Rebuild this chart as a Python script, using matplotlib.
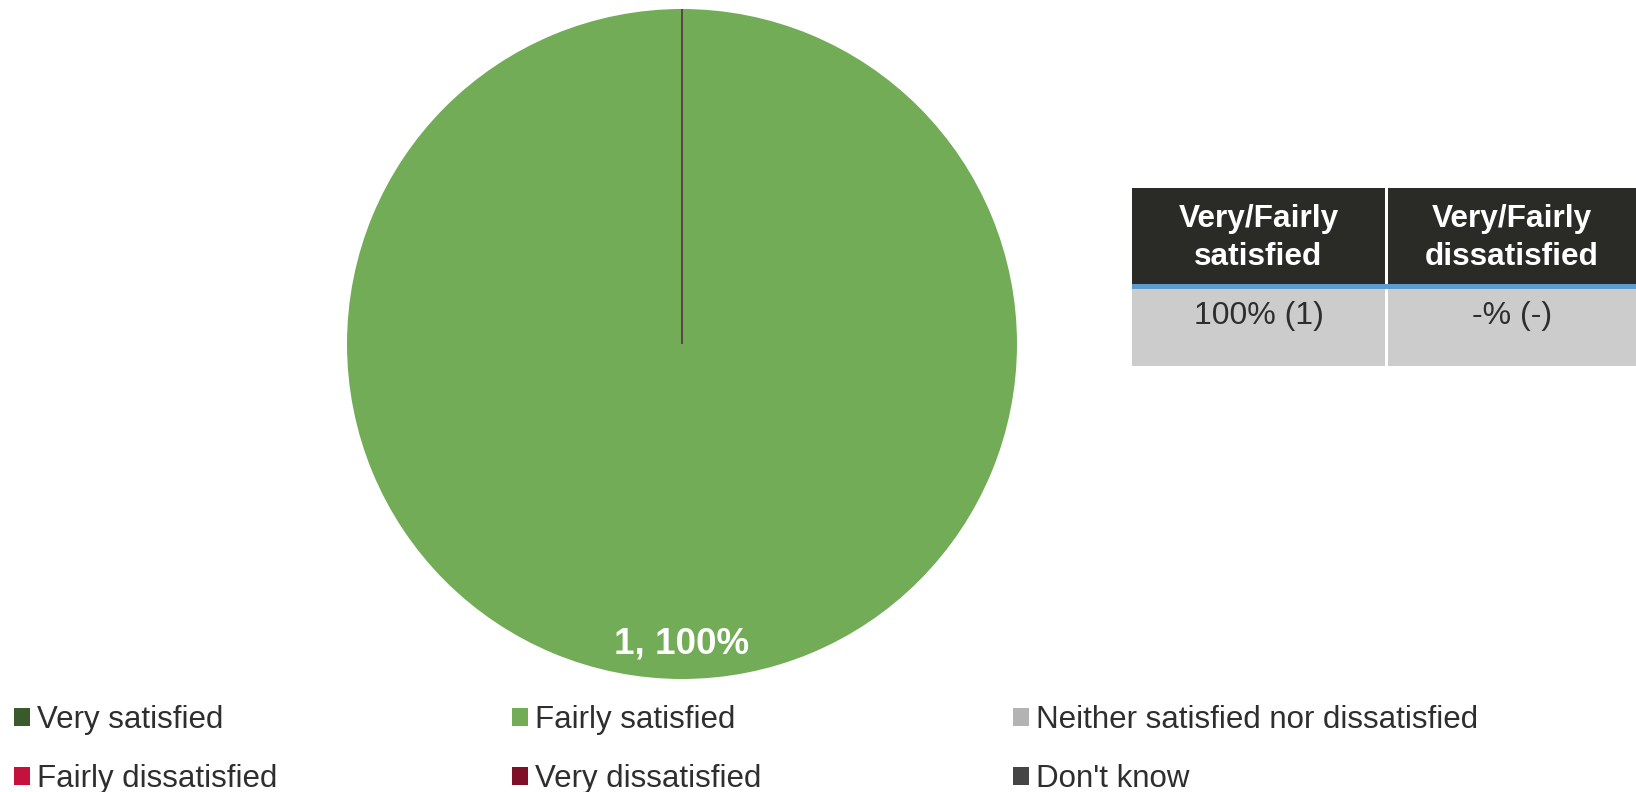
import matplotlib.pyplot as plt
from matplotlib.patches import Rectangle, Patch
from matplotlib import font_manager

# survey response counts (only one response in this chart)
categories = ["Very satisfied", "Fairly satisfied", "Neither satisfied nor dissatisfied",
              "Fairly dissatisfied", "Very dissatisfied", "Don't know"]
counts = [0, 1, 0, 0, 0, 0]
colors = ["#3b5a2b", "#72ac57", "#b3b3b3", "#c4123c", "#7e1128", "#454545"]

# summary table next to the pie
table_headers = ["Very/Fairly\nsatisfied", "Very/Fairly\ndissatisfied"]
table_values = ["100% (1)", "-% (-)"]

W, H = 1636, 792
installed = {f.name for f in font_manager.fontManager.ttflist}
BASE = "Liberation Sans" if "Liberation Sans" in installed else "DejaVu Sans"
plt.rcParams["font.family"] = [BASE, "DejaVu Sans"]

fig = plt.figure(figsize=(W / 100, H / 100), dpi=100)

# pie: centre (682, 344) px, radius 335 px
cx, cy, r = 682, 344, 335
ax = fig.add_axes([(cx - r) / W, 1 - (cy + r) / H, 2 * r / W, 2 * r / H])
total = sum(counts)


def label_fmt(pct):
    n = int(round(pct * total / 100))
    return f"{n}, {pct:.0f}%" if n > 0 else ""


wedges, texts, autotexts = ax.pie(counts, colors=colors, startangle=90, counterclock=False,
                                  autopct=label_fmt, pctdistance=0.895, radius=1,
                                  wedgeprops=dict(linewidth=0))
for w, n in zip(wedges, counts):
    if n == 0:
        w.set_edgecolor("#5a4846")
        w.set_linewidth(1.4)
for t in autotexts:
    t.set_color("white")
    t.set_fontsize(26.5)
    t.set_fontweight("bold")
ax.set_xlim(-1, 1)
ax.set_ylim(-1, 1)
ax.set_aspect("equal")

# table drawn on an overlay in pixel coordinates
ov = fig.add_axes([0, 0, 1, 1], zorder=-1)
ov.set_xlim(0, W)
ov.set_ylim(H, 0)
ov.axis("off")
cols = [(1132, 1385), (1388, 1636)]
for (x0, x1), head, val in zip(cols, table_headers, table_values):
    ov.add_patch(Rectangle((x0, 188), x1 - x0, 96, color="#2a2b27", lw=0))
    ov.add_patch(Rectangle((x0, 289), x1 - x0, 77, color="#cccccc", lw=0))
    ov.text((x0 + x1) / 2, 238, head, ha="center", va="center", color="white",
            fontsize=22.8, fontweight="bold", linespacing=1.32)
    ov.text((x0 + x1) / 2, 316, val, ha="center", va="center", color="#2e2e2e",
            fontsize=23)
ov.add_patch(Rectangle((1132, 284), 1636 - 1132, 5, color="#5b9bd0", lw=0))

# legend: three columns of two rows
leg_cols = [[0, 3], [1, 4], [2, 5]]
leg_x = [14, 512, 1013]
for idx, x in zip(leg_cols, leg_x):
    handles = [Patch(facecolor=colors[i], edgecolor="none", label=categories[i]) for i in idx]
    leg = fig.legend(handles=handles, loc="upper left", bbox_to_anchor=(x / W, 1 - 705 / H),
                     frameon=False, handlelength=0.5, handleheight=0.5, handletextpad=0.25,
                     borderpad=0, borderaxespad=0, labelspacing=0.94,
                     prop=dict(size=22.5))
    for t in leg.get_texts():
        t.set_color("#2e2e2e")

fig.savefig("out.png", dpi=100)
